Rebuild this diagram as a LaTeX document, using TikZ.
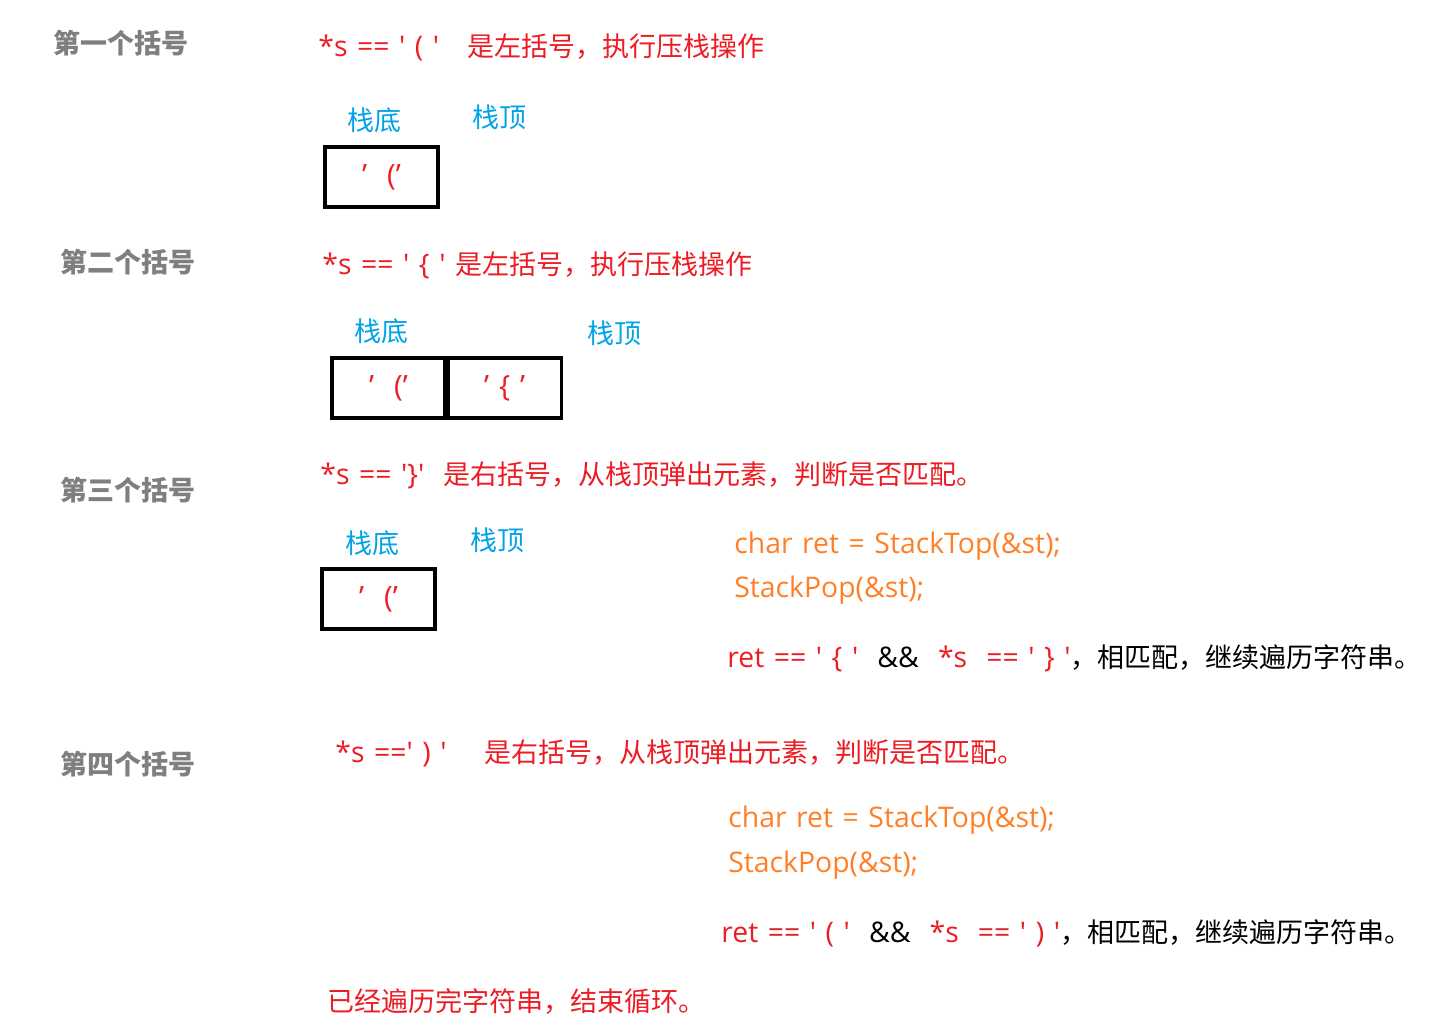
\documentclass[tikz,border=0pt]{standalone}
\usepackage{fontspec}
\setmainfont{Noto Sans CJK SC}[Ligatures=TeXOff]
\newfontfamily\latfont{Open Sans}[Ligatures=TeXOff, WordSpace=1.3, Scale=1.05]
\usepackage{xcolor}
\definecolor{headgray}{HTML}{7F7F7F}
\definecolor{opred}{HTML}{ED1C24}
\definecolor{stkblue}{HTML}{00A2E8}
\definecolor{codeorange}{HTML}{FF7F27}
\newcommand{\sz}{\fontsize{13.5}{16}\selectfont}
\newcommand{\lat}[1]{{\latfont #1}}
\tikzset{
  head/.style={anchor=west, inner xsep=0pt, text=headgray, font=\sz\bfseries},
  say/.style={anchor=west, inner xsep=0pt, text=opred, font=\sz},
  tag/.style={text=stkblue, font=\sz},
  code/.style={anchor=west, inner xsep=0pt, text=codeorange, font=\sz\latfont},
  cell/.style={draw, line width=1.6pt, minimum width=56.5pt, minimum height=30pt, inner sep=0pt, text=opred, font=\fontsize{14}{16}\selectfont\latfont},
}
\begin{document}
\begin{tikzpicture}[x=0.5pt, y=-0.5pt]
			\useasboundingbox (0,0) rectangle (1446,1030);
			% first bracket
			\node[head] (h1) at (53,43) {第一个括号};
			\node[say] (r1) at (318,47) {\lat{*s == ' ( '\ \ \ }是左括号，执行压栈操作};
			\node[tag] (b1) at (374,120) {栈底};
			\node[tag] (t1) at (499,117) {栈顶};
			\node[cell] (c1) at (381.5,177) {\raisebox{-1pt}{’\ \ (’}};
			% second bracket
			\node[head] (h2) at (60,262) {第二个括号};
			\node[say] (r2) at (322,265) {\lat{*s == ' \{ '\ }是左括号，执行压栈操作};
			\node[tag] (b2) at (381,331) {栈底};
			\node[tag] (t2) at (614,333) {栈顶};
			\node[cell] (c2a) at (388.5,388) {\raisebox{-1pt}{’\ \ (’}};
			\node[cell, anchor=west] (c2b) at (c2a.east) {\raisebox{-1pt}{’\ \{\ ’}};
			% third bracket
			\node[head] (h3) at (60,490) {第三个括号};
			\node[say] (r3) at (320,475) {\lat{*s == '\}'\ \ }是右括号，从栈顶弹出元素，判断是否匹配。};
			\node[tag] (b3) at (372,543) {栈底};
			\node[tag] (t3) at (497,540) {栈顶};
			\node[cell] (c3) at (378.5,599) {\raisebox{-1pt}{’\ \ (’}};
			\node[code] (k3a) at (734,546) {char ret = StackTop(\&st);};
			\node[code] (k3b) at (734,590) {StackPop(\&st);};
			\node[anchor=west, inner xsep=0pt, font=\sz] (m3) at (727,658)
				{\lat{\textcolor{opred}{ret == ' \{ '}\ \ \&\&\ \ \textcolor{opred}{*s\ \ == ' \} '}}，相匹配，继续遍历字符串。};
			% fourth bracket
			\node[head] (h4) at (60,764) {第四个括号};
			\node[say] (r4) at (335,753) {\lat{*s ==' ) '\ \ \ \ }是右括号，从栈顶弹出元素，判断是否匹配。};
			\node[code] (k4a) at (728,820) {char ret = StackTop(\&st);};
			\node[code] (k4b) at (728,865) {StackPop(\&st);};
			\node[anchor=west, inner xsep=0pt, font=\sz] (m4) at (721,933)
				{\lat{\textcolor{opred}{ret == ' ( '}\ \ \&\&\ \ \textcolor{opred}{*s\ \ == ' ) '}}，相匹配，继续遍历字符串。};
			% end of string
			\node[say] (fin) at (327,1001) {已经遍历完字符串，结束循环。};
		\end{tikzpicture}
\end{document}
